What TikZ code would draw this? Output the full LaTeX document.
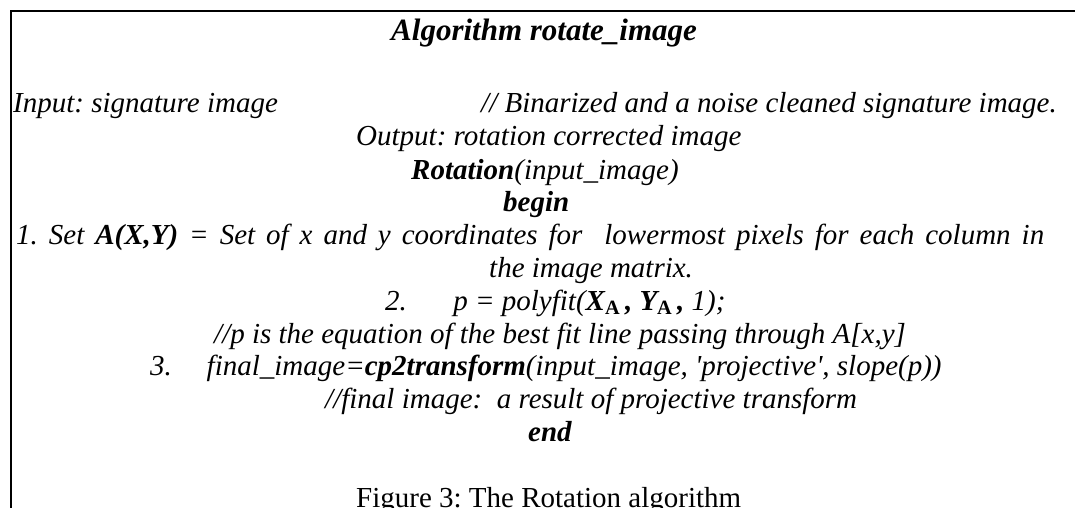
\documentclass[tikz,border=0pt]{standalone}
\usepackage{fontspec}
\setmainfont{Liberation Serif}
\frenchspacing
\begin{document}
\begin{tikzpicture}[x=1pt,y=-1pt,
  ln/.style={anchor=base west, inner sep=0pt, font=\fontsize{29}{33}\selectfont\itshape},
  frame/.style={line width=2pt}]
\useasboundingbox (0,0) rectangle (1075,508);
\fill[white] (0,0) rectangle (1075,508);
\draw[frame] (11,508) -- (11,11) -- (1075,11);
\node[ln, font=\fontsize{31}{35}\selectfont\itshape] (title) at (391,41) {\textbf{Algorithm rotate\_image}};
\node[ln] (input) at (13,113) {Input: signature image};
\node[ln] (comment) at (481,113) {// Binarized and a noise cleaned signature image.};
\node[ln] (output) at (356,146) {Output: rotation corrected image};
\node[ln] (rot) at (411,179) {\textbf{Rotation}(input\_image)};
\node[ln] (begin) at (503,211) {\textbf{begin}};
\node[ln] (s1) at (16,244) {\makebox[1028pt][s]{1. Set \textbf{A(X,Y)} = Set of x and y coordinates for\ \ lowermost pixels for each column in}};
\node[ln] (s1b) at (489,277) {the image matrix.};
\node[ln] (s2) at (385,310) {2.\hspace{1.6em}p = polyfit(\textbf{X\textsubscript{\upshape A}\,, Y\textsubscript{\upshape A}\,,} 1);};
\node[ln] (c2) at (214,343) {//p is the equation of the best fit line passing through A[x,y]};
\node[ln] (s3) at (150,375) {3.\hspace{1.2em}final\_image=\textbf{cp2transform}(input\_image, \textquotesingle projective\textquotesingle, slope(p))};
\node[ln] (c3) at (325,408) {//final image:\ \ a result of projective transform};
\node[ln] (end) at (528,441) {\textbf{end}};
\node[ln, font=\fontsize{29}{33}\selectfont\upshape] (cap) at (356,507) {Figure 3: The Rotation algorithm};
\end{tikzpicture}
\end{document}
